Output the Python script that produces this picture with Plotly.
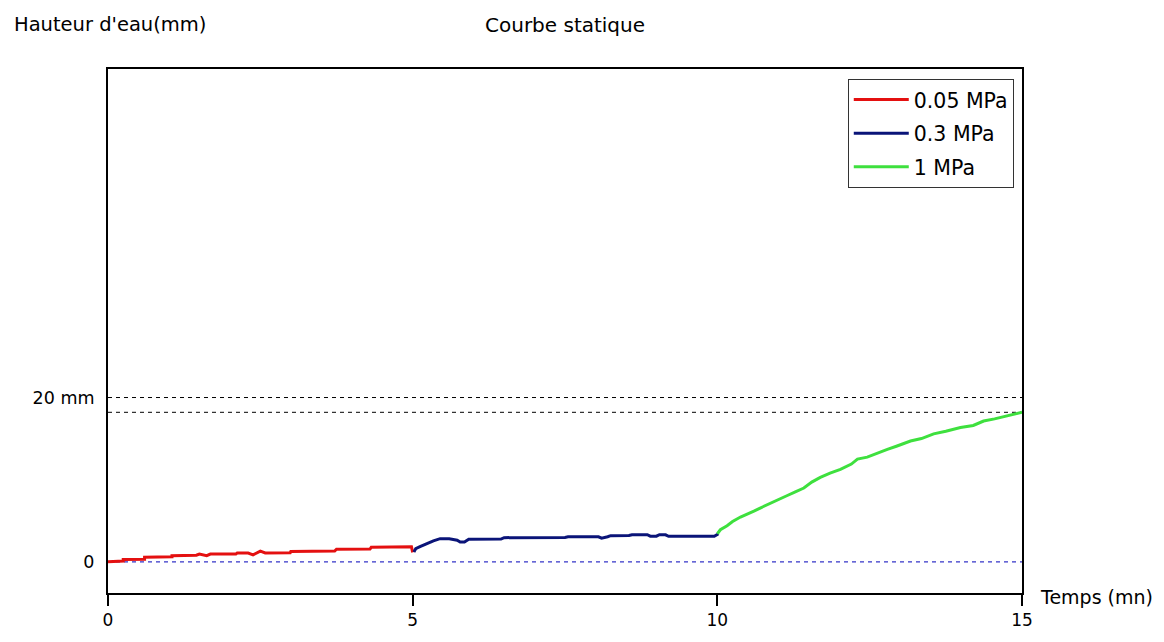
import plotly.graph_objects as go

# ---- data ----
red_t = [0, 0.25, 0.25, 0.6, 0.6, 1.05, 1.05, 1.45, 1.5, 1.62, 1.68, 2.1, 2.12, 2.3, 2.38, 2.5,
         2.58, 2.99, 3.0, 3.72, 3.75, 4.3, 4.32, 4.95, 4.98, 5.0]
red_y = [0, 0.1, 0.27, 0.3, 0.55, 0.6, 0.75, 0.8, 0.94, 0.75, 0.94, 0.96, 1.06, 1.06, 0.85, 1.29,
         1.08, 1.1, 1.25, 1.3, 1.53, 1.55, 1.76, 1.84, 1.84, 1.14]

blue_t = [5.02, 5.05, 5.12, 5.25, 5.34, 5.45, 5.6, 5.73, 5.78, 5.85, 5.92, 6.45, 6.5, 7.5, 7.55,
          8.05, 8.1, 8.2, 8.25, 8.55, 8.6, 8.85, 8.9, 9.0, 9.05, 9.15, 9.2, 9.95, 10.02]
blue_y = [1.2, 1.6, 1.84, 2.3, 2.55, 2.82, 2.8, 2.63, 2.4, 2.4, 2.74, 2.76, 2.94, 2.96, 3.04,
          3.04, 2.88, 3.05, 3.18, 3.2, 3.3, 3.3, 3.12, 3.12, 3.3, 3.28, 3.1, 3.1, 3.41]

green_t = [10.0, 10.05, 10.16, 10.25, 10.38, 10.5, 10.6, 10.72, 10.87, 11.0, 11.14, 11.28, 11.42,
           11.55, 11.69, 11.85, 12.02, 12.2, 12.3, 12.46, 12.6, 12.79, 12.95, 13.17, 13.35, 13.55,
           13.75, 13.99, 14.2, 14.37, 14.55, 14.76, 14.9, 15.0]
green_y = [3.41, 3.9, 4.39, 4.9, 5.45, 5.8, 6.16, 6.6, 7.14, 7.6, 8.04, 8.5, 8.98, 9.7, 10.27,
           10.8, 11.25, 11.9, 12.5, 12.74, 13.1, 13.68, 14.1, 14.71, 15.0, 15.57, 15.9, 16.35,
           16.6, 17.14, 17.4, 17.73, 17.95, 18.2]

series_names = ["0.05 MPa", "0.3 MPa", "1 MPa"]
series_colors = ["#e41010", "#0a1478", "#3ee03e"]

limit_levels = [20, 18.2]
zero_level = [0]

x_ticks = [0, 5, 10, 15]
y_ticks = [0, 20]
y_ticktext = ["0", "20 mm"]

FONT = "DejaVu Sans"

fig = go.Figure()

for name, tx, ty, col in zip(series_names, [red_t, blue_t, green_t], [red_y, blue_y, green_y], series_colors):
    fig.add_trace(go.Scatter(x=tx, y=ty, mode="lines", name=name, legendgroup=name,
                             line=dict(color=col, width=3)))

for lv in limit_levels:
    fig.add_shape(type="line", xref="x", yref="y", x0=0, x1=15, y0=lv, y1=lv,
                  line=dict(color="black", width=1, dash="4px,4px"), layer="below")
for lv in zero_level:
    fig.add_shape(type="line", xref="x", yref="y", x0=0, x1=15, y0=lv, y1=lv,
                  line=dict(color="#3434c8", width=1.2, dash="4px,4px"), layer="below")

PW, PH = 914, 542  # plot area size in px
fig.add_annotation(text="Hauteur d'eau(mm)", xref="paper", yref="paper", x=-(108 - 12) / PW, y=1 + (69 - 23) / PH,
                   xanchor="left", yanchor="middle", showarrow=False, font=dict(size=19.5, color="black", family=FONT))
fig.add_annotation(text="Courbe statique", xref="paper", yref="paper", x=(565 - 108) / PW, y=1 + (69 - 23) / PH,
                   xanchor="center", yanchor="middle", showarrow=False, font=dict(size=20, color="black", family=FONT))
fig.add_annotation(text="Temps (mn)", xref="paper", yref="paper", x=1, y=0, xshift=16, yshift=-4,
                   xanchor="left", yanchor="middle", showarrow=False, font=dict(size=19, color="black", family=FONT))

fig.update_layout(
    width=1156, height=634,
    margin=dict(l=100, r=142, t=61, b=31),
    paper_bgcolor="white", plot_bgcolor="white",
    font=dict(family=FONT, size=18, color="black"),
    showlegend=True,
    legend=dict(x=0.991, y=0.9815, xanchor="right", yanchor="top",
                bordercolor="#333333", borderwidth=1, bgcolor="white",
                font=dict(size=20.5, family=FONT), tracegroupgap=4, itemwidth=55),
    xaxis=dict(range=[0, 15], tickvals=x_ticks, ticks="outside", ticklen=11, tickwidth=2,
               tickcolor="black", showline=True, linecolor="black", linewidth=2, mirror=True,
               showgrid=False, zeroline=False, tickfont=dict(size=17)),
    yaxis=dict(range=[-3.8, 60], tickvals=y_ticks, ticktext=y_ticktext, ticks="",
               showline=True, linecolor="black", linewidth=2, mirror=True,
               showgrid=False, zeroline=False, ticklabelstandoff=8, tickfont=dict(size=17.5)),
)

fig.write_html("out.html")
